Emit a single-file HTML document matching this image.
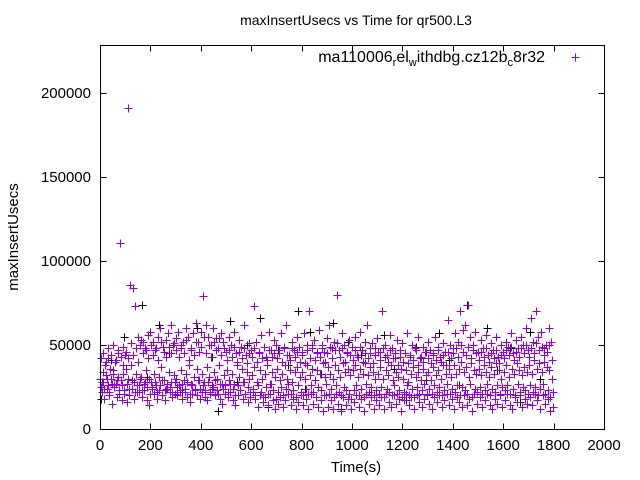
<!DOCTYPE html>
<html><head><meta charset="utf-8"><style>
html,body{margin:0;padding:0;background:#fff;}
svg{display:block;font-family:"Liberation Sans",sans-serif;}
</style></head><body>
<svg id="chart" width="640" height="480">
<g id="axes"></g>
<g id="marks"></g>
<rect x="100.5" y="45.5" width="504" height="384" fill="none" stroke="#000"/>
<text x="356" y="25" text-anchor="middle" font-size="14">maxInsertUsecs vs Time for qr500.L3</text>
<text x="356" y="472" text-anchor="middle" font-size="15">Time(s)</text>
<text transform="translate(18,237) rotate(-90)" text-anchor="middle" font-size="15">maxInsertUsecs</text>
<g>
<text x="545" y="62" text-anchor="end" font-size="16">ma110006<tspan font-size="11" dy="4">r</tspan><tspan dy="-4">el</tspan><tspan font-size="11" dy="4">w</tspan><tspan dy="-4">ithdbg.cz12b</tspan><tspan font-size="11" dy="4">c</tspan><tspan dy="-4">8r32</tspan></text>
<path d="M571.5,57.5h8M575.5,53.5v8" stroke="#9400d3" stroke-width="1"/>
</g>
</svg>
<script>
const upperBand=[30,34,38,42,36,33,40,45,111,38,44,191,86,84,73,55,50,52,48,56,58,52,47,55,60,49,53,57,62,50,54,58,48,52,60,55,47,57,63,52,58,79,62,55,50,60,54,48,57,52,46,55,50,58,45,53,49,62,44,51,47,73,52,45,56,49,43,58,47,53,50,45,57,48,62,44,52,47,55,49,46,57,50,70,48,53,45,59,50,46,54,62,48,52,80,47,57,50,45,53,49,55,44,58,47,52,62,45,51,48,54,46,70,50,44,56,48,42,53,47,51,45,57,43,50,48,55,42,49,46,52,47,44,55,49,43,51,46,65,50,48,57,52,70,59,62,74,55,50,58,46,53,48,56,44,51,47,55,43,50,46,52,49,57,45,53,48,55,50,60,47,66,52,70,55,58,48,50,60,52];
const middleBand=[25,28,32,26,30,35,27,31,29,33,36,30,38,28,33,22,31,27,35,30,28,33,26,31,37,29,24,34,28,32,30,26,35,29,33,38,27,31,36,29,33,28,37,31,26,34,30,38,27,32,35,29,33,27,38,31,36,28,34,30,32,37,28,35,30,33,38,27,34,31,36,29,33,38,30,35,28,34,37,31,34,30,38,32,36,29,35,33,39,31,37,33,30,38,35,31,39,34,36,32,35,38,31,36,33,39,32,37,34,30,33,37,30,35,32,38,29,34,31,36,30,35,28,33,37,31,34,29,36,32,34,29,37,32,35,30,38,33,36,31,38,33,36,40,34,37,31,39,35,33,36,32,38,34,31,37,33,39,35,30,34,38,31,36,33,39,35,32,37,34,38,33,41,36,39,34,40,37,35,30];
const lowerBand=[22,18,24,20,15,26,19,23,17,21,16,20,24,18,22,26,19,23,17,14,25,21,18,23,20,17,24,22,19,21,20,23,18,22,19,16,21,24,20,18,22,19,17,21,24,20,23,18,15,21,19,22,17,14,20,23,18,21,16,19,22,18,13,20,16,19,14,21,17,12,15,19,13,17,21,14,18,12,16,20,14,18,12,21,15,19,13,17,11,20,13,17,12,21,15,11,19,14,18,12,16,20,13,18,11,21,15,19,12,17,14,19,12,21,16,13,20,15,18,11,17,21,14,19,12,20,16,13,18,21,15,12,19,16,20,13,17,21,14,18,12,19,16,13,20,14,18,11,21,15,19,13,17,21,14,12,18,15,20,13,17,21,14,12,19,16,20,13,18,15,19,14,21,17,12,20,15,18,11,13];
const upperMidBand=[42,45,40,48,44,50,41,47,43,49,46,42,51,44,48,40,53,45,47,42,50,44,48,41,52,46,43,49,45,51,47,43,50,45,53,41,48,44,52,46,49,55,45,50,43,52,47,54,44,48,41,47,43,49,40,46,42,48,39,45,43,48,40,46,42,49,41,47,43,45,42,47,40,49,44,41,48,43,46,40,44,39,47,42,50,41,46,43,48,40,45,49,42,47,51,43,48,40,46,44,41,47,43,49,40,45,42,48,39,44,46,41,48,43,40,47,42,45,38,43,40,45,39,44,41,47,38,43,40,46,42,39,45,41,47,40,44,38,46,42,45,48,43,50,46,44,49,42,47,45,41,46,43,48,40,45,42,47,39,44,42,47,44,49,41,46,43,48,45,50,43,48,45,51,47,49,44,46,50,41];
const lowerMidBand=[28,24,30,22,27,25,29,21,26,23,27,24,29,22,26,30,23,28,25,21,24,28,22,26,29,23,27,25,22,28,25,22,27,24,28,21,26,23,29,24,26,23,28,22,25,29,21,27,24,26,22,27,24,20,26,23,28,21,25,22,24,20,26,22,19,25,21,27,23,18,22,25,20,24,27,21,23,19,26,22,20,24,21,26,22,19,25,23,20,27,21,24,19,26,22,20,25,23,21,18,23,26,20,24,19,27,22,25,20,23,21,25,19,24,22,20,26,21,23,19,22,26,20,24,19,25,21,23,27,20,24,21,26,22,25,20,23,27,21,24,22,26,20,25,23,21,27,19,24,22,25,21,23,27,20,24,22,26,21,25,23,26,21,24,20,27,22,25,23,21,26,22,25,20,24,27,21,23,19,22];
const blackTimes=[5,45,95,165,185,235,275,325,385,445,470,515,545,585,635,665,705,745,785,815,835,875,925,955,985,1035,1075,1125,1165,1215,1255,1295,1345,1385,1425,1455,1495,1535,1575,1625,1665,1705,1745,1785];
const blackValues=[18,41,55,74,31,62,45,22,60,43,11,64,28,50,66,13,47,38,70,24,58,33,63,12,52,44,20,56,36,17,49,29,57,41,26,74,22,60,35,48,16,58,30,11];
const xMin=0,xMax=2000,yMin=0,yMax=228571;
const X=v=>100+(v-xMin)/(xMax-xMin)*504;
const Y=v=>429-(v-yMin)/(yMax-yMin)*384;
const NS="http://www.w3.org/2000/svg";
const xTicks=[0,200,400,600,800,1000,1200,1400,1600,1800,2000];
const yTicks=[0,50000,100000,150000,200000];
const axes=document.getElementById('axes');
let d="";
xTicks.forEach(t=>{const x=Math.round(X(t))+0.5;d+=`M${x},429.5v-6M${x},45.5v6`;
 const tx=document.createElementNS(NS,'text');tx.setAttribute('x',X(t));tx.setAttribute('y',450);tx.setAttribute('text-anchor','middle');tx.setAttribute('font-size','15');tx.textContent=t;
 
 
 axes.appendChild(tx);});
yTicks.forEach(t=>{const y=Math.round(Y(t))+0.5;d+=`M100.5,${y}h6M604.5,${y}h-6`;
 const tx=document.createElementNS(NS,'text');tx.setAttribute('x',91);tx.setAttribute('y',Y(t)+5);tx.setAttribute('text-anchor','end');tx.setAttribute('font-size','15');tx.textContent=t;
 
 
 axes.appendChild(tx);});
const tp=document.createElementNS(NS,'path');tp.setAttribute('d',d);tp.setAttribute('stroke','#000');tp.setAttribute('fill','none');


axes.appendChild(tp);
const marks=document.getElementById('marks');
function plus(t,v,color,name){const x=Math.round(X(t))+0.5,y=Math.round(Y(v))+0.5;
 const p=document.createElementNS(NS,'path');p.setAttribute('d',`M${x-4},${y}h8M${x},${y-4}v8`);p.setAttribute('stroke',color);p.setAttribute('fill','none');
 
 
 marks.appendChild(p);}
blackValues.forEach((v,i)=>plus(blackTimes[i],v*1000,'#000','black-point'));
const offsets=[0,3,6,2,7];
[upperBand,middleBand,lowerBand,upperMidBand,lowerMidBand].forEach((arr,k)=>arr.forEach((v,i)=>{plus(i*10+offsets[k],v*1000,'#9400d3','data-point');}));
</script>
</body></html>
